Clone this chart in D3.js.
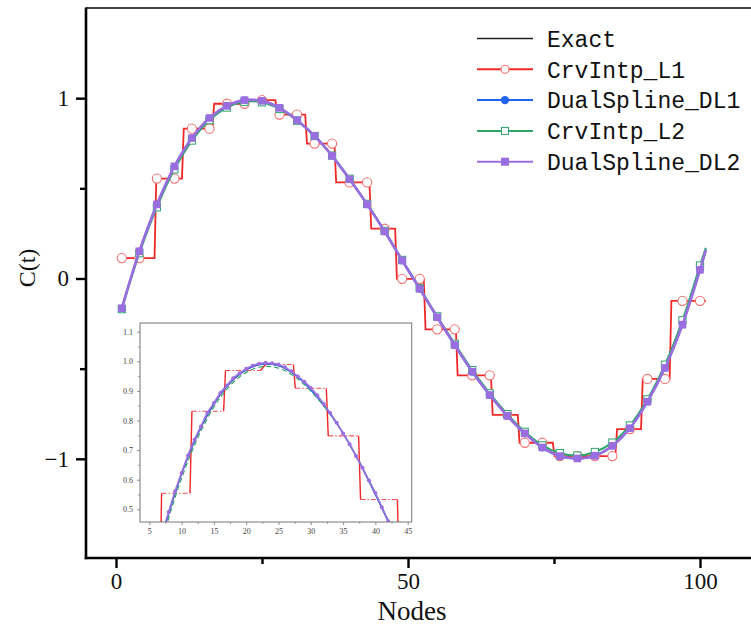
<!DOCTYPE html>
<html>
<head>
<meta charset="utf-8">
<script src="https://cdn.jsdelivr.net/npm/d3@7"></script>
<style>
  html, body { margin: 0; padding: 0; background: #fff; }
  svg { display: block; }
</style>
</head>
<body>
<svg id="chart" width="751" height="628"></svg>
<script>
// ---- data ----
// nodes where markers sit; the last entry (101) is only the line end
const curveNodes = [1, 4, 7, 10, 13, 16, 19, 22, 25, 28, 31, 34, 37, 40, 43, 46, 49, 52, 55,
  58, 61, 64, 67, 70, 73, 76, 79, 82, 85, 88, 91, 94, 97, 100, 101];

const exactVals = [-0.165, 0.150, 0.408, 0.618, 0.775, 0.886, 0.955, 0.988, 0.985, 0.947, 0.879,
  0.792, 0.681, 0.551, 0.411, 0.262, 0.101, -0.056, -0.214, -0.368, -0.516, -0.645, -0.760,
  -0.858, -0.936, -0.984, -0.997, -0.982, -0.927, -0.829, -0.682, -0.495, -0.255, 0.049, 0.160];

const dl1Vals = [-0.166, 0.151, 0.410, 0.621, 0.778, 0.889, 0.957, 0.989, 0.985, 0.946, 0.878,
  0.791, 0.680, 0.549, 0.410, 0.260, 0.099, -0.058, -0.216, -0.370, -0.518, -0.647, -0.762,
  -0.860, -0.938, -0.986, -0.998, -0.983, -0.928, -0.830, -0.683, -0.496, -0.256, 0.047, 0.158];

const l2Vals = [-0.170, 0.140, 0.395, 0.605, 0.765, 0.878, 0.948, 0.980, 0.977, 0.940, 0.875,
  0.790, 0.682, 0.553, 0.414, 0.264, 0.103, -0.053, -0.210, -0.362, -0.508, -0.637, -0.752,
  -0.850, -0.925, -0.968, -0.982, -0.962, -0.910, -0.815, -0.670, -0.478, -0.232, 0.072, 0.170];

const dl2Vals = [-0.165, 0.151, 0.411, 0.622, 0.779, 0.890, 0.957, 0.989, 0.985, 0.946, 0.878,
  0.791, 0.680, 0.550, 0.411, 0.261, 0.100, -0.057, -0.215, -0.369, -0.517, -0.646, -0.761,
  -0.859, -0.937, -0.985, -0.998, -0.983, -0.928, -0.830, -0.683, -0.496, -0.256, 0.048, 0.159];

// CrvIntp_L1: piecewise constant steps [from node, to node, level]
const l1StepFrom  = [1, 6.9, 11.6, 16.8, 23.0, 27.6, 32.7, 37.7, 43.7, 48.1, 53.0, 58.5, 64.5, 69.1, 75.1, 85.8, 90.2, 95.1];
const l1StepTo    = [6.6, 11.3, 16.5, 22.2, 27.3, 32.4, 37.4, 43.4, 47.8, 52.7, 58.2, 64.2, 68.8, 74.8, 85.5, 89.9, 94.8, 101];
const l1StepLevel = [0.113, 0.554, 0.831, 0.969, 0.989, 0.909, 0.748, 0.533, 0.276, -0.002, -0.282,
  -0.537, -0.756, -0.911, -0.985, -0.835, -0.557, -0.124];
// CrvIntp_L1 circle markers at curveNodes (without 101)
const l1Marks = [0.113, 0.113, 0.554, 0.554, 0.831, 0.831, 0.969, 0.969, 0.989, 0.909, 0.909, 0.748,
  0.748, 0.533, 0.533, 0.276, -0.002, -0.002, -0.282, -0.282, -0.537, -0.537, -0.756, -0.911,
  -0.911, -0.985, -0.985, -0.985, -0.985, -0.835, -0.557, -0.557, -0.124, -0.124];

// inset: DualSpline_DL2 at every node 7..43
const insetNodes = d3.range(7, 44);
const insetDl2 = [0.418, 0.491, 0.561, 0.623, 0.682, 0.735, 0.780, 0.826, 0.859, 0.893, 0.918, 0.943,
  0.960, 0.975, 0.985, 0.992, 0.995, 0.993, 0.989, 0.980, 0.966, 0.949, 0.931, 0.910, 0.885,
  0.856, 0.825, 0.792, 0.756, 0.720, 0.680, 0.640, 0.597, 0.555, 0.507, 0.460, 0.411];

const xTicks = [0, 50, 100], xMinor = [25, 75];
const yTicks = [-1, 0, 1], yMinor = [-0.5, 0.5];
const insetXTicks = [5, 10, 15, 20, 25, 30, 35, 40, 45];
const insetYTicks = [0.5, 0.6, 0.7, 0.8, 0.9, 1.0, 1.1];

const legendNames = ['Exact', 'CrvIntp_L1', 'DualSpline_DL1', 'CrvIntp_L2', 'DualSpline_DL2'];

// ---- colours ----
const C = {
  exact: '#222222',
  red: '#f02828', redMark: '#f27070',
  blue: '#1f63ee',
  green: '#2ea56b',
  purple: '#9a6ee0'
};

const svg = d3.select('#chart');
const W = 751, H = 628;
const plotL = 86, plotT = 8, plotB = 558;

const x = d3.scaleLinear().domain([0, 100]).range([116, 700]);
const y = d3.scaleLinear().domain([-1.55, 1.5]).range([plotB, plotT]);

const serif = '"Liberation Serif", "Times New Roman", serif';
const mono = '"Liberation Mono", "DejaVu Sans Mono", monospace';

// ---- series helpers ----
const pts = vals => vals.map((v, i) => [curveNodes[i], v]);
const smooth = (sx, sy) => d3.line().x(d => sx(d[0])).y(d => sy(d[1])).curve(d3.curveCatmullRom.alpha(0.5));
const straight = (sx, sy) => d3.line().x(d => sx(d[0])).y(d => sy(d[1]));

function stepPoints() {
  const p = [];
  l1StepFrom.forEach((f, i) => { p.push([f, l1StepLevel[i]]); p.push([l1StepTo[i], l1StepLevel[i]]); });
  return p;
}

// ---- main plot ----
const main = svg.append('g');

main.append('path').attr('d', smooth(x, y)(pts(exactVals)))
  .attr('fill', 'none').attr('stroke', C.exact).attr('stroke-width', 1.2);

main.append('path').attr('d', straight(x, y)(stepPoints()))
  .attr('fill', 'none').attr('stroke', C.red).attr('stroke-width', 1.8);
main.append('g').selectAll('circle').data(l1Marks).join('circle')
  .attr('cx', (d, i) => x(curveNodes[i])).attr('cy', d => y(d)).attr('r', 4.6)
  .attr('fill', '#fff').attr('stroke', C.redMark).attr('stroke-width', 1.1);

main.append('path').attr('d', smooth(x, y)(pts(dl1Vals)))
  .attr('fill', 'none').attr('stroke', C.blue).attr('stroke-width', 2);
main.append('g').selectAll('circle').data(dl1Vals.slice(0, 34)).join('circle')
  .attr('cx', (d, i) => x(curveNodes[i])).attr('cy', d => y(d)).attr('r', 3.6)
  .attr('fill', C.blue);

main.append('path').attr('d', smooth(x, y)(pts(l2Vals)))
  .attr('fill', 'none').attr('stroke', C.green).attr('stroke-width', 2);
main.append('g').selectAll('rect').data(l2Vals.slice(0, 34)).join('rect')
  .attr('x', (d, i) => x(curveNodes[i]) - 3.6).attr('y', d => y(d) - 3.6)
  .attr('width', 7.2).attr('height', 7.2)
  .attr('fill', '#fff').attr('stroke', C.green).attr('stroke-width', 1);

main.append('path').attr('d', smooth(x, y)(pts(dl2Vals)))
  .attr('fill', 'none').attr('stroke', C.purple).attr('stroke-width', 2.6);
main.append('g').selectAll('rect').data(dl2Vals.slice(0, 34)).join('rect')
  .attr('x', (d, i) => x(curveNodes[i]) - 3.8).attr('y', d => y(d) - 3.8)
  .attr('width', 7.6).attr('height', 7.6).attr('fill', C.purple);

// ---- axes ----
svg.append('g').attr('transform', `translate(0,${plotB})`)
  .call(d3.axisBottom(x).tickValues(xTicks).tickSize(10).tickPadding(5).tickFormat(d3.format('d')));
svg.append('g').attr('transform', `translate(0,${plotB})`)
  .call(d3.axisBottom(x).tickValues(xMinor).tickSize(6).tickFormat(''));
svg.append('g').attr('transform', `translate(${plotL},0)`)
  .call(d3.axisLeft(y).tickValues(yTicks).tickSize(10).tickPadding(7).tickFormat(d3.format('d')));
svg.append('g').attr('transform', `translate(${plotL},0)`)
  .call(d3.axisLeft(y).tickValues(yMinor).tickSize(6).tickFormat(''));

svg.selectAll('.domain').remove();
svg.selectAll('.tick line').attr('stroke', '#000').attr('stroke-width', 2.4);
svg.selectAll('.tick text').attr('font-family', serif).attr('font-size', 23).attr('fill', '#111');

// spines
svg.append('line').attr('x1', plotL).attr('x2', plotL).attr('y1', plotT - 0.5).attr('y2', plotB + 1.2)
  .attr('stroke', '#000').attr('stroke-width', 2.6);
svg.append('line').attr('x1', plotL - 1.3).attr('x2', W).attr('y1', plotB).attr('y2', plotB)
  .attr('stroke', '#000').attr('stroke-width', 2.6);
svg.append('line').attr('x1', plotL).attr('x2', W).attr('y1', plotT).attr('y2', plotT)
  .attr('stroke', '#000').attr('stroke-width', 1.6);

// axis titles
svg.append('text').attr('x', 412).attr('y', 620).attr('text-anchor', 'middle')
  .attr('font-family', serif).attr('font-size', 27).attr('fill', '#111').text('Nodes');
svg.append('text').attr('transform', 'translate(35,268) rotate(-90)').attr('text-anchor', 'middle')
  .attr('font-family', serif).attr('font-size', 24).attr('fill', '#111').text('C(t)');

// ---- legend ----
const leg = svg.append('g');
legendNames.forEach((name, i) => {
  const ly = 38.5 + i * 30.8;
  const g = leg.append('g');
  const col = [C.exact, C.red, C.blue, C.green, C.purple][i];
  g.append('line').attr('x1', 477).attr('x2', 533).attr('y1', ly).attr('y2', ly)
    .attr('stroke', col).attr('stroke-width', i === 0 ? 1.3 : 2);
  if (i === 1) g.append('circle').attr('cx', 505).attr('cy', ly).attr('r', 4)
    .attr('fill', '#fff').attr('stroke', C.redMark).attr('stroke-width', 1.1);
  if (i === 2) g.append('circle').attr('cx', 505).attr('cy', ly).attr('r', 4.2).attr('fill', C.blue);
  if (i === 3) g.append('rect').attr('x', 501.5).attr('y', ly - 3.5).attr('width', 7).attr('height', 7)
    .attr('fill', '#fff').attr('stroke', C.green).attr('stroke-width', 1);
  if (i === 4) g.append('rect').attr('x', 501).attr('y', ly - 4).attr('width', 8).attr('height', 8).attr('fill', C.purple);
  g.append('text').attr('x', 547).attr('y', ly).attr('dy', '0.36em')
    .attr('font-family', mono).attr('font-size', 23).attr('fill', '#111').text(name);
});

// ---- inset ----
const box = { l: 140, t: 323, r: 411.7, b: 522 };
const ix = d3.scaleLinear().domain([5, 45]).range([149.3, 407.7]);
const iy = d3.scaleLinear().domain([0.5, 1.0]).range([509.3, 361.3]);

const inset = svg.append('g');
inset.append('rect').attr('x', box.l).attr('y', box.t).attr('width', box.r - box.l).attr('height', box.b - box.t)
  .attr('fill', '#fff');
svg.append('defs').append('clipPath').attr('id', 'insetClip')
  .append('rect').attr('x', box.l).attr('y', box.t).attr('width', box.r - box.l).attr('height', box.b - box.t);
const ic = inset.append('g').attr('clip-path', 'url(#insetClip)');

ic.append('path').attr('d', smooth(ix, iy)(pts(exactVals)))
  .attr('fill', 'none').attr('stroke', C.exact).attr('stroke-width', 0.8);

// red steps: solid jumps, dashed flats
l1StepFrom.forEach((f, i) => {
  ic.append('path').attr('d', straight(ix, iy)([[f, l1StepLevel[i]], [l1StepTo[i], l1StepLevel[i]]]))
    .attr('fill', 'none').attr('stroke', C.red).attr('stroke-width', 1.1)
    .attr('stroke-dasharray', '5,2,1.5,2').attr('opacity', 0.8);
  if (i < l1StepFrom.length - 1) {
    ic.append('path').attr('d', straight(ix, iy)([[l1StepTo[i], l1StepLevel[i]], [l1StepFrom[i + 1], l1StepLevel[i + 1]]]))
      .attr('fill', 'none').attr('stroke', C.red).attr('stroke-width', 1.4);
  }
});

ic.append('path').attr('d', smooth(ix, iy)(pts(dl1Vals)))
  .attr('fill', 'none').attr('stroke', C.blue).attr('stroke-width', 1.3);
ic.append('path').attr('d', smooth(ix, iy)(pts(l2Vals)))
  .attr('fill', 'none').attr('stroke', C.green).attr('stroke-width', 1.2).attr('stroke-dasharray', '5,3');
ic.append('path').attr('d', smooth(ix, iy)(insetDl2.map((v, i) => [insetNodes[i], v])))
  .attr('fill', 'none').attr('stroke', C.purple).attr('stroke-width', 1.8).attr('opacity', 0.9);
ic.append('g').selectAll('circle').data(insetDl2).join('circle')
  .attr('cx', (d, i) => ix(insetNodes[i])).attr('cy', d => iy(d)).attr('r', 2)
  .attr('fill', C.purple);

inset.append('rect').attr('x', box.l).attr('y', box.t).attr('width', box.r - box.l).attr('height', box.b - box.t)
  .attr('fill', 'none').attr('stroke', '#777').attr('stroke-width', 1);

inset.append('g').attr('transform', `translate(0,${box.b})`)
  .call(d3.axisBottom(ix).tickValues(insetXTicks).tickSize(3).tickPadding(3).tickFormat(d3.format('d')));
inset.append('g').attr('transform', `translate(0,${box.b})`)
  .call(d3.axisBottom(ix).tickValues(d3.range(7.5, 45, 5)).tickSize(1.8).tickFormat(''));
inset.append('g').attr('transform', `translate(${box.l},0)`)
  .call(d3.axisLeft(iy).tickValues(insetYTicks).tickSize(3).tickPadding(4).tickFormat(d3.format('.1f')));
inset.append('g').attr('transform', `translate(${box.l},0)`)
  .call(d3.axisLeft(iy).tickValues(d3.range(0.55, 1.1, 0.1)).tickSize(1.8).tickFormat(''));
inset.selectAll('.domain').remove();
inset.selectAll('.tick line').attr('stroke', '#777').attr('stroke-width', 0.8);
inset.selectAll('.tick text').attr('font-family', serif).attr('font-size', 8).attr('fill', '#444');
</script>
</body>
</html>
